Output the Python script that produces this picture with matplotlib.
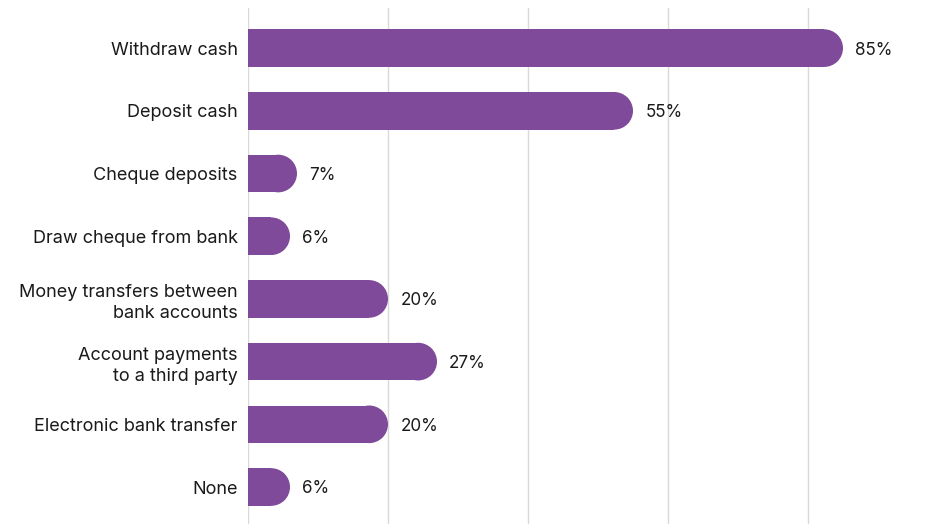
import matplotlib
matplotlib.use("Agg")
import matplotlib.pyplot as plt
from matplotlib.patches import Rectangle, Ellipse

categories = ["Withdraw cash", "Deposit cash", "Cheque deposits", "Draw cheque from bank",
              "Money transfers between\nbank accounts", "Account payments\nto a third party",
              "Electronic bank transfer", "None"]
values = [85, 55, 7, 6, 20, 27, 20, 6]
value_labels = ["85%", "55%", "7%", "6%", "20%", "27%", "20%", "6%"]
grid_ticks = [0, 20, 40, 60, 80]

plt.rcParams['font.family'] = ['Inter', 'DejaVu Sans']

W, H = 935, 524
fig = plt.figure(figsize=(W / 100, H / 100), dpi=100)
ax = fig.add_axes([248 / W, 0, (W - 248) / W, (H - 8) / H])

xmax = (W - 248) / 7.0
ax.set_xlim(0, xmax)
ax.set_ylim(len(categories) - 1 + 0.59, -0.64)

color = "#7e4a99"
bh = 0.6
ax_w_px = W - 248
ax_h_px = H - 8
px_x = ax_w_px / xmax
px_y = ax_h_px / (len(categories) - 1 + 0.59 + 0.64)
r_px = bh * px_y / 2
rx = r_px / px_x

for i, v in enumerate(values):
    ax.add_patch(Rectangle((0, i - bh / 2), v - rx, bh, facecolor=color, edgecolor="none", zorder=3))
    ax.add_patch(Ellipse((v - rx, i), 2 * rx, bh, facecolor=color, edgecolor="none", zorder=3))
    ax.text(v + 1.75, i + 0.03, value_labels[i], va="center", ha="left", fontsize=12.3, color="#1a1a1a")

ax.set_yticks(range(len(categories)))
ax.set_yticklabels(categories, fontsize=13, color="#1a1a1a", linespacing=1.3)
ax.tick_params(axis="y", length=0, pad=7.5)
ax.set_xticks(grid_ticks)
ax.tick_params(axis="x", length=0, labelbottom=False)
ax.grid(axis="x", color="#d9d9d9", linewidth=1, zorder=0)
for s in ["top", "right", "bottom", "left"]:
    ax.spines[s].set_visible(False)

fig.savefig("out.png", dpi=100)
